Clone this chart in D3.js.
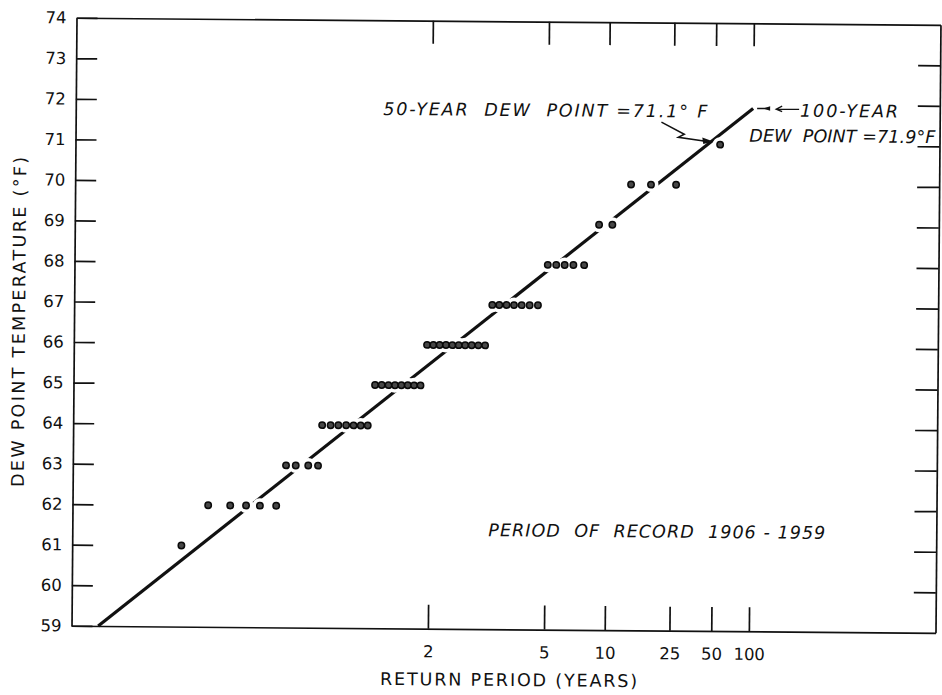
<!DOCTYPE html>
<html><head><meta charset="utf-8">
<script src="https://cdn.jsdelivr.net/npm/d3@7"></script>
<style>
body{margin:0;background:#fff}
svg{display:block}
text{font-family:"DejaVu Sans",sans-serif;fill:#111;white-space:pre}
</style>
</head><body>
<script>
// ---------- DATA ----------
const yTickValues = [59,60,61,62,63,64,65,66,67,68,69,70,71,72,73,74];
const yRightTickValues = [60,61,62,63,64,65,66,67,68,69,70,71,72,73];
const xTickReturnPeriods = [2,5,10,25,50,100];
const xTickLabels = ["2","5","10","25","50","100"];

const pointReturnPeriods = [
  1.038,
  1.058,1.081,1.102,1.124,1.155,
  1.176,1.200,1.235,1.266,
  1.279,1.310,1.341,1.375,1.410,1.447,1.486,
  1.528,1.571,1.618,1.667,1.719,1.774,1.833,1.897,
  1.964,2.037,2.115,2.200,2.292,2.391,2.500,2.619,2.750,2.895,
  3.056,3.235,3.438,3.667,3.929,4.231,4.583,
  5.04,5.50,6.02,6.63,7.50,
  8.94,10.57,
  13.50,17.9,26.2,
  54.5
];
const pointDewPoints = [
  61,
  62,62,62,62,62,
  63,63,63,63,
  64,64,64,64,64,64,64,
  65,65,65,65,65,65,65,65,
  66,66,66,66,66,66,66,66,66,66,
  67,67,67,67,67,67,67,
  68,68,68,68,68,
  69,69,
  70,70,70,
  71
];
const fitReturnPeriods = [1.0085, 100];
const fitDewPoints = [59.0, 71.9];

const yTitle = "DEW POINT TEMPERATURE (°F)";
const xTitle = "RETURN PERIOD (YEARS)";
const note50 = "50-YEAR  DEW  POINT =71.1° F";
const note100a = "100-YEAR";
const note100b = "DEW  POINT =71.9°F";
const noteRecord = "PERIOD  OF  RECORD  1906 - 1959";

// ---------- helpers ----------
function normInv(p){
  const a=[-3.969683028665376e+01,2.209460984245205e+02,-2.759285104469687e+02,1.383577518672690e+02,-3.066479806614716e+01,2.506628277459239e+00];
  const b=[-5.447609879822406e+01,1.615858368580409e+02,-1.556989798598866e+02,6.680131188771972e+01,-1.328068155288572e+01];
  const c=[-7.784894002430293e-03,-3.223964580411365e-01,-2.400758277161838e+00,-2.549732539343734e+00,4.374664141464968e+00,2.938163982698783e+00];
  const d=[7.784695709041462e-03,3.224671290700398e-01,2.445134137142996e+00,3.754408661907416e+00];
  const pl=0.02425;
  let q,r;
  if(p<pl){q=Math.sqrt(-2*Math.log(p));return (((((c[0]*q+c[1])*q+c[2])*q+c[3])*q+c[4])*q+c[5])/((((d[0]*q+d[1])*q+d[2])*q+d[3])*q+1);}
  if(p>1-pl){q=Math.sqrt(-2*Math.log(1-p));return -(((((c[0]*q+c[1])*q+c[2])*q+c[3])*q+c[4])*q+c[5])/((((d[0]*q+d[1])*q+d[2])*q+d[3])*q+1);}
  q=p-0.5;r=q*q;
  return (((((a[0]*r+a[1])*r+a[2])*r+a[3])*r+a[4])*r+a[5])*q/(((((b[0]*r+b[1])*r+b[2])*r+b[3])*r+b[4])*r+1);
}
const zOf = T => normInv(1 - 1/T);

// ---------- layout ----------
const W = 942, H = 695;
const L = 74, R = 938, T0 = 21, B = 629;
const svg = d3.select("body").append("svg").attr("width", W).attr("height", H);
svg.append("rect").attr("width",W).attr("height",H).attr("fill","#fff");
const g = svg.append("g").attr("transform", "rotate(0.47,471,325)");

const x = d3.scaleLinear().domain([-2.583, 3.679]).range([L, R]);
const y = d3.scaleLinear().domain([59, 74]).range([B, T0]);
const xT = t => x(zOf(t));

const axStroke = "#111";
function styleAxis(sel){
  sel.selectAll("path.domain").attr("stroke", axStroke).attr("stroke-width", 1.7);
  sel.selectAll(".tick line").attr("stroke", axStroke).attr("stroke-width", 1.7);
  sel.selectAll(".tick text").attr("font-family", '"DejaVu Sans",sans-serif').attr("font-size", 16.5).attr("fill", "#111");
}

// bottom axis
const xTickZ = xTickReturnPeriods.map(zOf);
g.append("g").attr("transform", `translate(0,${B})`)
  .call(d3.axisBottom(x).tickValues(xTickZ).tickFormat((d,i)=>xTickLabels[i])
    .tickSizeInner(-24).tickSizeOuter(0).tickPadding(17))
  .call(styleAxis);
// top axis
g.append("g").attr("transform", `translate(0,${T0})`)
  .call(d3.axisTop(x).tickValues(xTickZ).tickFormat("").tickSizeInner(-23).tickSizeOuter(0))
  .call(styleAxis);
// left axis
g.append("g").attr("transform", `translate(${L},0)`)
  .call(d3.axisLeft(y).tickValues(yTickValues).tickFormat(d3.format("d"))
    .tickSizeInner(-21).tickSizeOuter(0).tickPadding(10))
  .call(styleAxis);
// right axis
g.append("g").attr("transform", `translate(${R},0)`)
  .call(d3.axisRight(y).tickValues(yRightTickValues).tickFormat("").tickSizeInner(-22).tickSizeOuter(0))
  .call(styleAxis);

// fitted line
const fit = fitReturnPeriods.map((t,i)=>({t, v: fitDewPoints[i]}));
g.append("path").datum(fit)
  .attr("d", d3.line().x(d=>xT(d.t)).y(d=>y(d.v)))
  .attr("fill","none").attr("stroke","#111").attr("stroke-width",3.2);

// points: white halos that break the line, then dots
const pts = pointReturnPeriods.map((t,i)=>({t, v: pointDewPoints[i]}));
g.append("g").selectAll("circle").data(pts).join("circle")
  .attr("cx", d=>xT(d.t)).attr("cy", d=>y(d.v)).attr("r", 7.5).attr("fill","#fff");
g.append("g").selectAll("circle").data(pts).join("circle")
  .attr("cx", d=>xT(d.t)).attr("cy", d=>y(d.v)).attr("r", 3.2)
  .attr("fill","#474747").attr("stroke","#0a0a0a").attr("stroke-width",1.5);

// ---------- annotations ----------
function label(txt, px, py, len, size, italic){
  return g.append("text").attr("x", px).attr("y", py).text(txt)
    .attr("font-size", size).attr("font-style", italic ? "italic" : "normal")
    .attr("textLength", len).attr("lengthAdjust", "spacing");
}
label(note50, 381.6, 115.7, 324, 17.5, true);
label(note100a, 798.3, 114, 98, 17.5, true);
label(note100b, 747.8, 139.4, 186, 17.5, true);
label(noteRecord, 490, 536, 337, 17.5, true);
label(xTitle, 383, 685.7, 257, 17.5, false);
g.append("text").attr("transform", "translate(25,325.7) rotate(-90)")
  .attr("text-anchor","middle").attr("font-size",17.5)
  .attr("textLength",330).attr("lengthAdjust","spacing").text(yTitle);

// 50-year arrow (anchored on the 50-year value of the fitted line)
const a50x = xT(50) - 2, a50y = y(71.1) + 1;
g.append("path")
  .attr("d", `M${a50x-52},${a50y-19} L${a50x-29},${a50y-7} L${a50x-35},${a50y-4} L${a50x-6},${a50y}`)
  .attr("fill","none").attr("stroke","#111").attr("stroke-width",1.5);
g.append("path")
  .attr("d", `M${a50x},${a50y} L${a50x-11},${a50y-4} L${a50x-10},${a50y+2.5} Z`)
  .attr("fill","#111");

// 100-year marker and arrow
const a100x = xT(100), a100y = y(71.9);
g.append("path").attr("d", `M${a100x+4},${a100y} L${a100x+16},${a100y}`)
  .attr("stroke","#111").attr("stroke-width",1.5);
g.append("path").attr("d", `M${a100x+10},${a100y} L${a100x+17},${a100y-2.2} L${a100x+17},${a100y+2.2} Z`)
  .attr("fill","#111");
g.append("path").attr("d", `M${a100x+46},${a100y+0.5} L${a100x+23},${a100y+0.5} M${a100x+29},${a100y-2.5} L${a100x+23},${a100y+0.5} L${a100x+29},${a100y+3}`)
  .attr("fill","none").attr("stroke","#111").attr("stroke-width",1.3);
</script>
</body></html>
